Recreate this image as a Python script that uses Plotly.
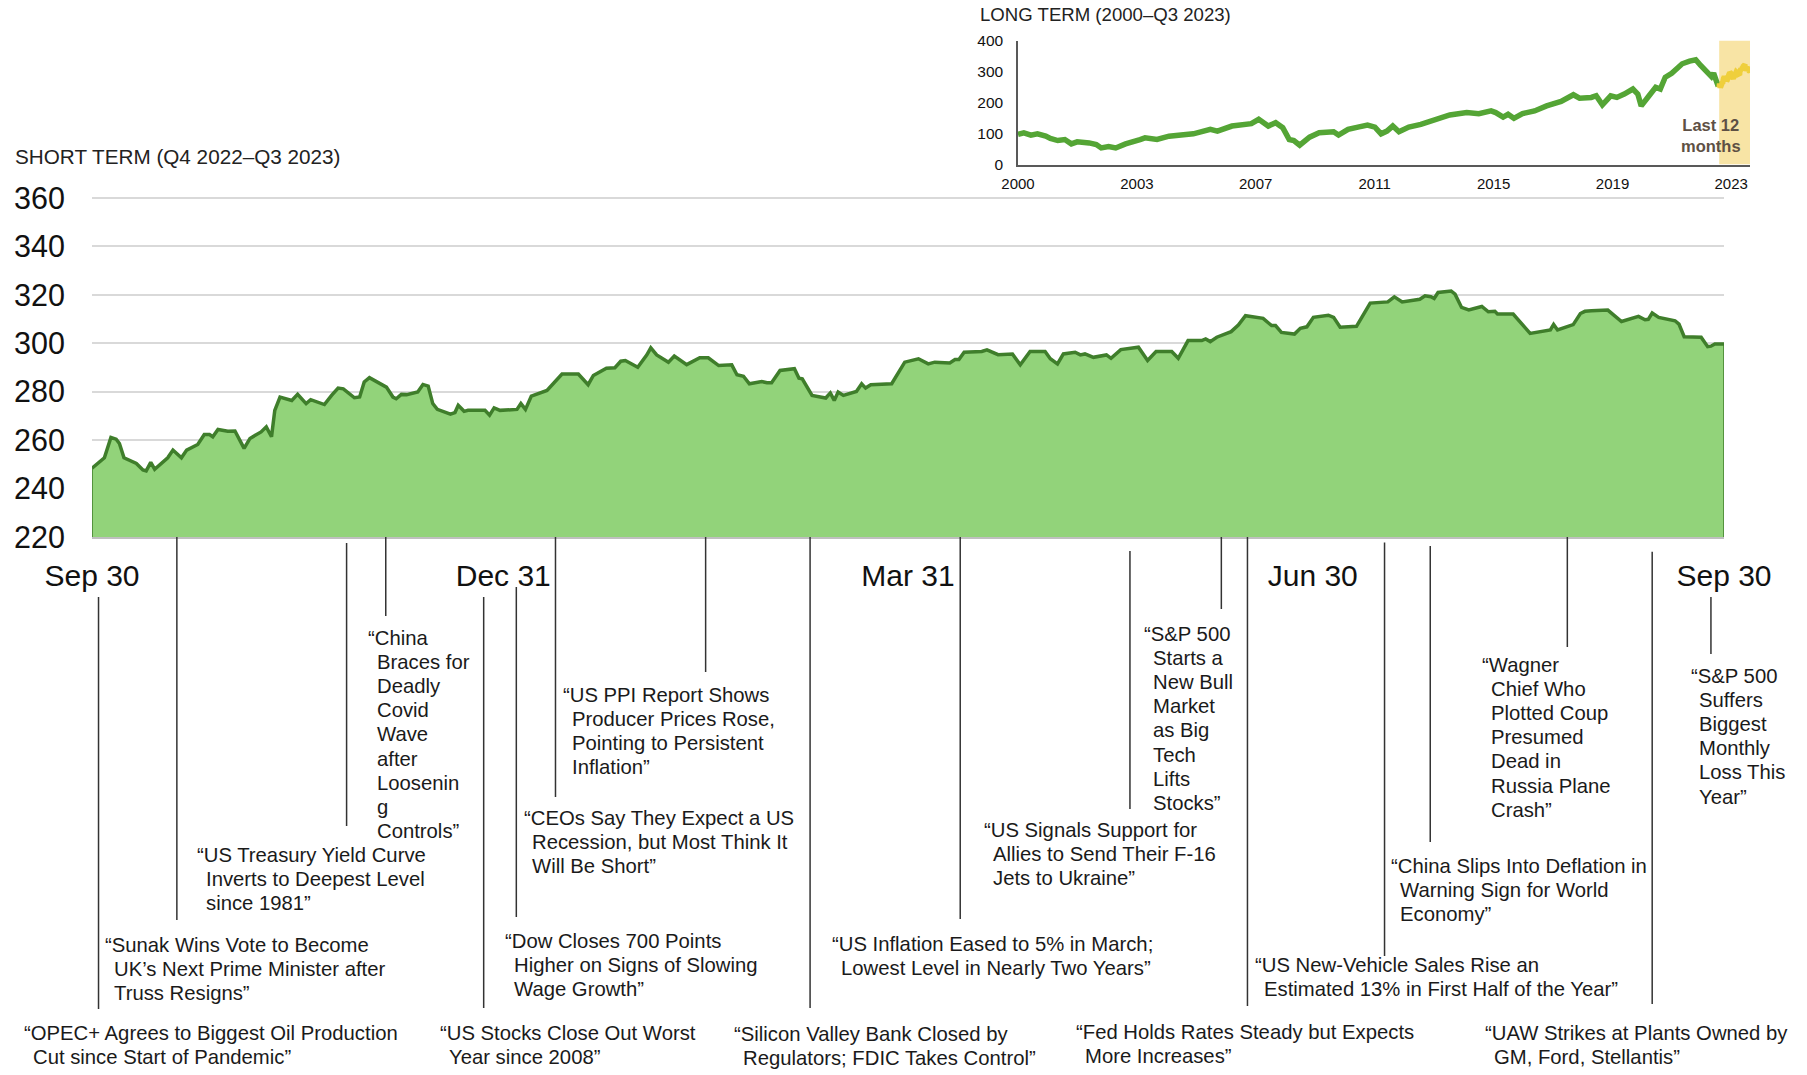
import plotly.graph_objects as go

# ---------------- DATA ----------------
# Short term (Q4 2022 - Q3 2023): trading-session number (0 = Sep 30, 2022) and index level
session = [
    0.0, 1.9, 2.9, 3.7, 4.2, 4.9, 6.8, 7.8, 8.3, 9.0, 9.6, 11.6, 12.4, 13.7, 14.5, 16.2, 17.2, 18.0, 18.5, 19.3,
    20.8, 21.9, 23.3, 24.2, 25.9, 26.7, 27.5, 28.0, 28.8, 30.6, 31.5, 32.8, 33.5, 35.6, 36.7, 37.7, 38.5, 40.2, 41.0, 41.7,
    42.5, 45.1, 46.1, 46.6, 47.4, 48.2, 49.9, 50.7, 51.5, 52.2, 52.9, 54.9, 55.6, 56.1, 57.0, 57.6, 60.2, 60.9, 61.6, 62.5,
    65.1, 65.7, 66.4, 67.3, 69.7, 72.0, 74.5, 76.0, 76.8, 78.8, 80.1, 81.0, 81.7, 83.6, 85.0, 85.6, 86.5, 88.3, 89.2, 91.1,
    93.1, 94.4, 96.0, 98.0, 98.8, 99.8, 100.7, 102.6, 103.4, 104.1, 105.4, 107.6, 108.3, 108.8, 110.3, 112.4, 113.1, 113.7,
    114.3, 115.1, 117.1, 117.9, 118.5, 119.3, 122.5, 123.3, 124.5,
    126.6, 128.1, 129.1, 131.4, 132.2, 132.8, 133.6, 136.3, 137.1, 138.8, 141.0, 142.2, 143.7, 146.0, 146.8, 147.9, 148.8,
    150.6, 151.4, 152.1, 153.4, 155.4, 156.1, 157.6, 160.3, 161.7, 163.0, 165.4, 166.4, 167.9, 170.0, 170.6, 171.3, 172.3,
    174.5, 175.6, 176.7, 179.4, 180.7, 181.3, 182.2, 184.2, 185.1, 186.1, 187.1, 188.1,
    189.4, 190.2, 191.2, 193.7, 195.8, 198.5, 199.5, 200.7, 203.4, 204.2, 205.1, 205.6, 206.2, 208.2, 208.8, 209.8, 210.9,
    212.9, 213.9, 214.9, 215.3, 217.7, 220.3, 223.4, 223.9, 224.5, 226.9, 228.0, 228.7, 229.7, 232.2, 234.3, 236.9, 237.9,
    238.4, 239.0, 240.0, 242.5, 243.1, 243.9, 246.5, 247.5, 248.0, 248.6, 250.0,
]
index_level = [
    248.4, 252.7, 261.1, 260.4, 258.6, 252.7, 250.4, 247.7, 247.3, 250.8, 248.0, 252.7, 255.9, 252.7, 255.9, 258.2, 262.3, 262.3, 261.4, 264.4,
    263.7, 263.8, 256.6, 260.7, 263.4, 265.5, 261.4, 272.3, 277.8, 276.4, 278.9, 275.1, 276.7, 274.7, 278.5, 281.5, 281.2, 277.5, 277.8, 284.0,
    285.8, 281.9, 277.8, 277.1, 278.9, 278.8, 279.9, 283.0, 282.3, 275.1, 272.7, 270.7, 271.4, 274.4, 271.9, 272.3, 272.3, 270.3, 273.3, 272.3,
    272.7, 275.1, 272.7, 278.2, 280.5, 287.3, 287.3, 282.9, 286.7, 289.7, 289.9, 292.6, 292.9, 290.1, 295.2, 298.1, 295.2, 292.2, 294.7, 291.2,
    294.0, 294.0, 290.8, 291.1, 287.0, 286.4, 283.3, 284.2, 283.7, 283.7, 288.8, 289.5, 285.6, 285.3, 278.5, 277.4, 279.5, 276.4,
    279.9, 278.5, 280.1, 283.3, 281.5, 282.9, 283.3, 287.0, 292.2,
    293.6, 291.5, 292.2, 291.9, 293.3, 293.3, 296.3, 296.6, 297.3, 295.3, 295.6, 291.1, 296.6, 296.6, 293.6, 291.5, 295.6,
    296.3, 295.2, 295.6, 294.2, 295.2, 293.8, 297.4, 298.4, 292.9, 296.6, 296.6, 293.8, 301.1, 301.1, 301.8, 300.7, 302.5,
    304.8, 307.5, 311.4, 310.3, 307.3, 307.3, 304.5, 303.8, 306.2, 306.8, 310.7, 311.1,
    311.6, 310.7, 306.6, 307.0, 316.6, 317.1, 319.2, 317.1, 318.2, 319.6, 319.2, 318.5, 321.0, 321.6, 320.3, 314.8, 313.8,
    315.2, 313.0, 313.2, 312.1, 312.1, 304.1, 305.5, 307.8, 305.5, 307.7, 312.3, 313.2, 313.4, 313.7, 309.0, 311.1, 309.7,
    309.9, 312.5, 310.7, 309.3, 307.9, 302.7, 302.5, 298.6, 298.8, 299.7, 299.7,
]

quarter_sessions = [0, 63, 125, 187, 250]
quarter_labels = ["Sep 30", "Dec 31", "Mar 31", "Jun 30", "Sep 30"]
short_y_ticks = [220, 240, 260, 280, 300, 320, 340, 360]

# Long term (2000 - Q3 2023), decimal year and index level
lt_year = [
    2000.00, 2000.19, 2000.42, 2000.63, 2000.90, 2001.05, 2001.29, 2001.52, 2001.73, 2001.92, 2002.31, 2002.54,
    2002.70, 2002.94, 2003.17, 2003.49, 2003.96, 2004.12, 2004.51, 2004.90, 2005.45, 2005.69, 2006.24, 2006.47,
    2006.94, 2007.26, 2007.57, 2007.81, 2008.12, 2008.36, 2008.59, 2008.80, 2008.95, 2009.14, 2009.46, 2009.77,
    2010.24, 2010.40, 2010.71, 2011.03, 2011.34, 2011.58, 2011.78, 2011.97, 2012.16, 2012.36, 2012.68, 2013.07,
    2013.46, 2013.78, 2014.01, 2014.56, 2014.95, 2015.35, 2015.50, 2015.74, 2015.90, 2016.09, 2016.37, 2016.76,
    2017.15, 2017.62, 2018.02, 2018.22, 2018.60, 2018.76, 2018.96, 2019.23, 2019.43, 2019.67, 2019.95, 2020.11,
    2020.22, 2020.45, 2020.69, 2020.84, 2021.00, 2021.21, 2021.36, 2021.55, 2021.79, 2021.99, 2022.15, 2022.34,
    2022.50, 2022.57, 2022.72,
]
lt_level = [
    96.9, 102.3, 94.8, 99.0, 91.4, 83.8, 77.3, 80.6, 66.6, 73.1, 69.7, 64.3,
    53.5, 57.9, 53.5, 66.6, 80.6, 86.0, 80.6, 91.4, 96.9, 99.0, 113.1, 107.8,
    124.0, 129.4, 131.6, 145.7, 124.0, 134.9, 118.6, 80.6, 77.3, 62.2, 88.2, 102.3,
    105.5, 94.8, 113.1, 120.7, 127.2, 120.7, 99.0, 107.8, 124.0, 105.5, 120.7, 129.4,
    140.3, 149.0, 159.8, 167.4, 164.1, 172.8, 167.4, 153.1, 161.8, 149.0, 164.1, 172.8,
    189.1, 203.3, 225.0, 214.1, 216.3, 221.7, 192.4, 221.7, 216.3, 227.1, 243.4, 227.1,
    189.1, 218.5, 248.9, 243.4, 281.4, 294.4, 308.5, 324.9, 333.6, 337.9, 319.3, 303.0,
    283.5, 294.4, 252.0,
]
lt_tick_years = [2000.0, 2003.86, 2007.71, 2011.57, 2015.43, 2019.29, 2023.14]
lt_tick_labels = ["2000", "2003", "2007", "2011", "2015", "2019", "2023"]
lt_y_ticks = [0, 100, 200, 300, 400]
last12_start, last12_end = 2022.75, 2023.75

# Events: session number and headline (lines as printed)
event_session = [1, 13, 39, 45, 60, 65, 71, 94, 110, 133, 159, 173, 177, 198, 205, 226, 239, 248]
headlines = [
    ["“OPEC+ Agrees to Biggest Oil Production", "Cut since Start of Pandemic”"],
    ["“Sunak Wins Vote to Become", "UK’s Next Prime Minister after", "Truss Resigns”"],
    ["“US Treasury Yield Curve", "Inverts to Deepest Level", "since 1981”"],
    ["“China", "Braces for", "Deadly", "Covid", "Wave", "after", "Loosenin", "g", "Controls”"],
    ["“US Stocks Close Out Worst", "Year since 2008”"],
    ["“Dow Closes 700 Points", "Higher on Signs of Slowing", "Wage Growth”"],
    ["“CEOs Say They Expect a US", "Recession, but Most Think It", "Will Be Short”"],
    ["“US PPI Report Shows", "Producer Prices Rose,", "Pointing to Persistent", "Inflation”"],
    ["“Silicon Valley Bank Closed by", "Regulators; FDIC Takes Control”"],
    ["“US Inflation Eased to 5% in March;", "Lowest Level in Nearly Two Years”"],
    ["“US Signals Support for", "Allies to Send Their F-16", "Jets to Ukraine”"],
    ["“S&P 500", "Starts a", "New Bull", "Market", "as Big", "Tech", "Lifts", "Stocks”"],
    ["“Fed Holds Rates Steady but Expects", "More Increases”"],
    ["“US New-Vehicle Sales Rise an", "Estimated 13% in First Half of the Year”"],
    ["“China Slips Into Deflation in", "Warning Sign for World", "Economy”"],
    ["“Wagner", "Chief Who", "Plotted Coup", "Presumed", "Dead in", "Russia Plane", "Crash”"],
    ["“UAW Strikes at Plants Owned by", "GM, Ford, Stellantis”"],
    ["“S&P 500", "Suffers", "Biggest", "Monthly", "Loss This", "Year”"],
]

# ---------------- LAYOUT (pixel positions) ----------------
W, H = 1807, 1075
FONT = "Liberation Sans, Arial, Helvetica, sans-serif"
MAIN_L, MAIN_R, MAIN_B = 92, 1724, 537
PX_PER_UNIT = 339 / 140.0
Y_TOP = 361.0                      # small headroom so the 360 gridline is drawn
MAIN_T = MAIN_B - (Y_TOP - short_y_ticks[0]) * PX_PER_UNIT
INS_L, INS_R, INS_T, INS_B = 1018, 1750, 40.5, 164.5
LINE_STEP = 24.1
INDENT = 8.5
# (text left px, first line centre px, connector top px, connector bottom px)
headline_layout = [
    (24, 1032.6, 597, 1009), (105, 945, 537, 920), (197, 855, 543, 826), (368, 638, 537, 616),
    (440, 1033, 597, 1008), (505, 941, 587, 917), (523.5, 818, 537, 797), (563, 695, 537, 672),
    (734, 1034, 537, 1008), (832, 944, 537, 919), (984, 830, 551, 809), (1144, 634, 537, 609),
    (1076, 1031.5, 537, 1006), (1255, 965, 542.5, 956), (1391, 866, 546, 842), (1482, 665, 537, 647),
    (1485, 1033, 551.7, 1004), (1690.5, 676, 597, 654),
]


def fx(px):
    return px / W


def fy(py):
    return 1 - py / H


fig = go.Figure()

fig.add_trace(go.Scatter(
    x=session, y=index_level, mode="lines", fill="tozeroy",
    fillcolor="#92D37A", line=dict(color="#3F7E2B", width=3.5),
    xaxis="x", yaxis="y", hoverinfo="skip",
))

fig.add_trace(go.Scatter(
    x=lt_year, y=lt_level, mode="lines", line=dict(color="#54A535", width=5.5),
    xaxis="x2", yaxis="y2", hoverinfo="skip",
))
fig.add_trace(go.Scatter(
    x=[last12_start + s / quarter_sessions[-1] * (last12_end - last12_start) for s in session],
    y=index_level, mode="lines", line=dict(color="#EFCF3C", width=5.5),
    xaxis="x2", yaxis="y2", hoverinfo="skip",
))

shapes = []
# edges of the short-term area
for s, v in ((session[0], index_level[0]), (session[-1], index_level[-1])):
    shapes.append(dict(type="line", xref="x", yref="y", x0=s, x1=s, y0=short_y_ticks[0], y1=v,
                       line=dict(color="#3F7E2B", width=1.5), layer="above"))
# last 12 months band
shapes.append(dict(type="rect", xref="x2", yref="y2", x0=last12_start, x1=last12_end,
                   y0=lt_y_ticks[0], y1=lt_y_ticks[-1], fillcolor="#F8E4A5", line=dict(width=0), layer="below"))

annotations = []
for sess, lines, lay in zip(event_session, headlines, headline_layout):
    tx, ty, ly0, ly1 = lay
    shapes.append(dict(type="line", xref="x", yref="paper", x0=sess, x1=sess,
                       y0=fy(ly0), y1=fy(ly1), line=dict(color="#333333", width=1.5)))
    for k, s in enumerate(lines):
        annotations.append(dict(
            x=fx(tx + (0 if k == 0 else INDENT)), y=fy(ty + k * LINE_STEP), xref="paper", yref="paper",
            text=s, showarrow=False, xanchor="left", yanchor="middle", borderpad=0, borderwidth=0,
            font=dict(size=20.3, color="#1a1a1a", family=FONT),
        ))

annotations.append(dict(x=fx(15), y=fy(156), xref="paper", yref="paper", text="SHORT TERM (Q4 2022–Q3 2023)",
                        showarrow=False, xanchor="left", yanchor="middle", borderpad=0, borderwidth=0,
                        font=dict(size=20.7, color="#222222", family=FONT)))
annotations.append(dict(x=fx(980), y=fy(15), xref="paper", yref="paper", text="LONG TERM (2000–Q3 2023)",
                        showarrow=False, xanchor="left", yanchor="middle", borderpad=0, borderwidth=0,
                        font=dict(size=18.6, color="#222222", family=FONT)))
annotations.append(dict(x=fx(1711), y=fy(136), xref="paper", yref="paper", text="<b>Last 12<br>months</b>",
                        showarrow=False, xanchor="center", yanchor="middle", align="center",
                        borderpad=0, borderwidth=0,
                        font=dict(size=16.5, color="#5E5044", family=FONT)))

fig.update_layout(
    template="none",
    width=W, height=H,
    margin=dict(l=0, r=0, t=0, b=0, pad=0),
    paper_bgcolor="white", plot_bgcolor="white",
    showlegend=False, hovermode=False,
    font=dict(family=FONT, color="#1a1a1a"),
    xaxis=dict(domain=[fx(MAIN_L), fx(MAIN_R)], range=[quarter_sessions[0], quarter_sessions[-1]],
               tickvals=quarter_sessions, ticktext=quarter_labels, tickfont=dict(size=30, color="#111111"),
               showgrid=False, zeroline=False, showline=True, linecolor="#BFBFBF", linewidth=2,
               ticks="", ticklabelstandoff=11, anchor="y", automargin=False, fixedrange=True),
    yaxis=dict(domain=[fy(MAIN_B), fy(MAIN_T)], range=[short_y_ticks[0], Y_TOP],
               tickvals=short_y_ticks, tickfont=dict(size=30.5, color="#111111"),
               showgrid=True, gridcolor="#D9D9D9", gridwidth=1.5, zeroline=False, showline=False,
               ticks="", ticklabelstandoff=26, anchor="x", automargin=False, fixedrange=True),
    xaxis2=dict(domain=[fx(INS_L), fx(INS_R)], range=[lt_year[0], last12_end],
                tickvals=lt_tick_years, ticktext=lt_tick_labels, tickfont=dict(size=15, color="#111111"),
                showgrid=False, zeroline=False, showline=True, linecolor="#595959", linewidth=1.5,
                ticks="", ticklabelstandoff=5, anchor="y2", automargin=False, fixedrange=True),
    yaxis2=dict(domain=[fy(INS_B), fy(INS_T)], range=[lt_y_ticks[0], lt_y_ticks[-1]],
                tickvals=lt_y_ticks, tickfont=dict(size=15.5, color="#111111"),
                showgrid=False, zeroline=False, showline=True, linecolor="#595959", linewidth=1.5,
                ticks="", ticklabelstandoff=10, anchor="x2", automargin=False, fixedrange=True),
    shapes=shapes,
    annotations=annotations,
)

fig.write_html(
    "out.html",
    config={"displayModeBar": False},
    post_script="document.body.style.margin='0px';document.body.style.padding='0px';"
                "document.body.style.overflow='hidden';",
)
